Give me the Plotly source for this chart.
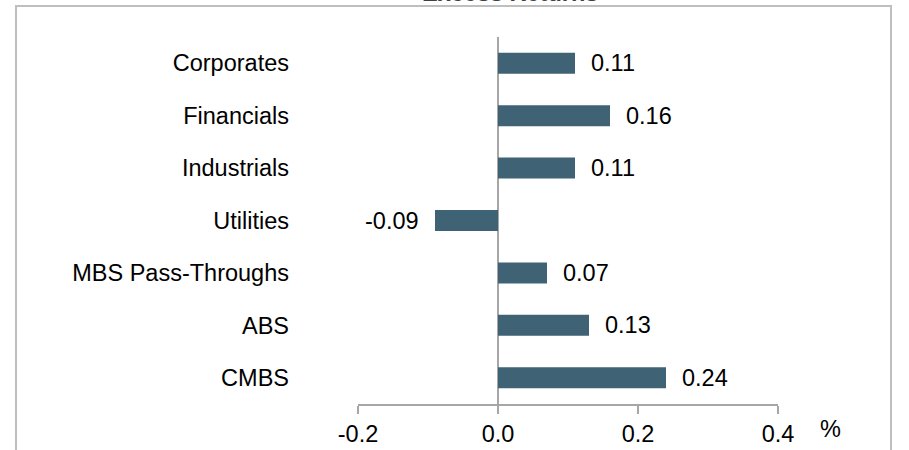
import plotly.graph_objects as go

categories = ["Corporates", "Financials", "Industrials", "Utilities",
              "MBS Pass-Throughs", "ABS", "CMBS"]
values = [0.11, 0.16, 0.11, -0.09, 0.07, 0.13, 0.24]
x_ticks = [-0.2, 0.0, 0.2, 0.4]
x_tick_labels = ["-0.2", "0.0", "0.2", "0.4"]
title_text = "Excess Returns"
unit_text = "%"

BAR = "#3F6275"
GRID = "#A6A6A6"
FONT = "Liberation Sans, Arial, sans-serif"
FS = 23.5

W, H = 909, 450
L, R, T, B = 358, 131, 37, 46
pw, ph = W - L - R, H - T - B

def px_x(p):
    return (p - L) / pw

def px_y(p):
    return (H - B - p) / ph

fig = go.Figure()
fig.add_trace(go.Bar(
    x=values, y=categories, orientation="h",
    marker=dict(color=BAR, line=dict(width=0)),
    width=0.4, showlegend=False, hoverinfo="x+y",
))

annotations = []
for c, v in zip(categories, values):
    annotations.append(dict(
        x=v, y=c, xref="x", yref="y", text=f"{v:.2f}", showarrow=False,
        xanchor="left" if v >= 0 else "right",
        xshift=14 if v >= 0 else -14,
        font=dict(size=FS, color="#000000", family=FONT),
    ))
annotations.append(dict(
    x=px_x(830), y=px_y(429), xref="paper", yref="paper", text=unit_text,
    showarrow=False, xanchor="center", yanchor="middle",
    font=dict(size=FS, color="#000000", family=FONT),
))
annotations.append(dict(
    x=px_x(510), y=px_y(8), xref="paper", yref="paper", text=f"<b>{title_text}</b>",
    showarrow=False, xanchor="center", yanchor="bottom",
    font=dict(size=FS, color="#404040", family=FONT),
))

fig.update_layout(
    width=W, height=H,
    margin=dict(l=L, r=R, t=T, b=B, pad=0, autoexpand=False),
    paper_bgcolor="white", plot_bgcolor="white",
    font=dict(family=FONT, size=FS, color="#000000"),
    annotations=annotations,
    shapes=[dict(
        type="rect", xref="paper", yref="paper",
        x0=px_x(16), x1=px_x(891), y0=px_y(470), y1=px_y(6),
        line=dict(color="#BFBFBF", width=2), fillcolor="rgba(0,0,0,0)",
        layer="below",
    )],
    xaxis=dict(
        range=[-0.2, 0.4], tickvals=x_ticks, ticktext=x_tick_labels,
        showgrid=False, zeroline=True, zerolinecolor=GRID, zerolinewidth=2,
        showline=True, linecolor=GRID, linewidth=2,
        ticks="outside", ticklen=8, tickwidth=2, tickcolor=GRID,
        tickfont=dict(size=FS), fixedrange=True,
        automargin=False,
    ),
    yaxis=dict(
        autorange="reversed", showgrid=False, zeroline=False, showline=False,
        ticks="", ticklabelstandoff=68, tickfont=dict(size=FS), fixedrange=True,
        automargin=False,
    ),
)

fig.write_html("out.html")
